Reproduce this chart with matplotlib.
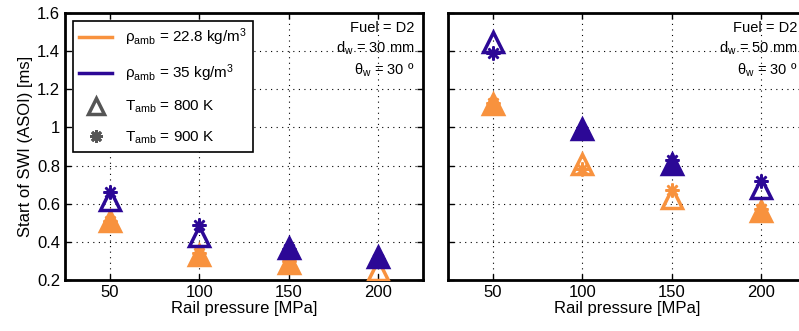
import matplotlib
matplotlib.use("Agg")
import matplotlib.pyplot as plt
from matplotlib.lines import Line2D

plt.rcParams['font.family'] = ['Liberation Sans', 'DejaVu Sans']

# Datos
pressure = [50, 100, 150, 200]

# panel izquierdo (d_w = 30 mm)
left_rho228_800 = [0.51, 0.33, 0.29, 0.25]
left_rho228_900 = [0.51, 0.34, 0.30, 0.30]
left_rho35_800 = [0.62, 0.43, 0.37, 0.32]
left_rho35_900 = [0.66, 0.49, 0.36, 0.31]

# panel derecho (d_w = 50 mm)
right_rho228_800 = [1.12, 0.81, 0.63, 0.56]
right_rho228_900 = [1.13, 0.78, 0.67, 0.57]
right_rho35_800 = [1.45, 0.99, 0.81, 0.68]
right_rho35_900 = [1.39, 0.98, 0.83, 0.72]

ORANGE = '#F8923E'
BLUE = '#2C0896'
GRAY = '#555555'
STAR = (8, 2, 0)

fig = plt.figure(figsize=(7.99, 3.31), dpi=100)
ax1 = fig.add_axes([0.0814, 0.154, 0.448, 0.807])
ax2 = fig.add_axes([0.5607, 0.154, 0.448, 0.807])


def draw_panel(ax, r1_800, r1_900, r2_800, r2_900):
    # orden de dibujo: naranja primero, azul encima
    for color, t800, t900 in [(ORANGE, r1_800, r1_900), (BLUE, r2_800, r2_900)]:
        ax.plot(pressure, t900, marker=STAR, ms=10, mec=color, mew=1.8,
                ls='none', zorder=3)
        for x, a, b in zip(pressure, t800, t900):
            # triangulo relleno cuando el asterisco queda dentro
            face = color if abs(a - b) < 0.025 else 'none'
            ax.plot(x, a, marker='^', ms=14, mfc=face, mec=color, mew=2.5,
                    ls='none', zorder=3)
    ax.set_xlim(25, 225)
    ax.set_ylim(0.2, 1.6)
    ax.set_xticks(pressure)
    ax.set_yticks([0.2, 0.4, 0.6, 0.8, 1.0, 1.2, 1.4, 1.6])
    ax.grid(True, color='black', linestyle=(0, (1, 4)), linewidth=0.8)
    ax.tick_params(direction='in', top=True, right=True, labelsize=12, length=4, width=1)
    for s in ax.spines.values():
        s.set_linewidth(2)
    ax.set_xlabel('Rail pressure [MPa]', fontsize=12, labelpad=1)


draw_panel(ax1, left_rho228_800, left_rho228_900, left_rho35_800, left_rho35_900)
draw_panel(ax2, right_rho228_800, right_rho228_900, right_rho35_800, right_rho35_900)

ax1.set_yticklabels(['0.2', '0.4', '0.6', '0.8', '1', '1.2', '1.4', '1.6'])
ax2.set_yticklabels([])
ax1.set_ylabel('Start of SWI (ASOI) [ms]', fontsize=12, labelpad=3)

ax1.text(0.975, 0.97, 'Fuel = D2\n$\\mathregular{d_w}$ = 30 mm\n$\\mathregular{\\theta_w}$ = 30 º',
         transform=ax1.transAxes, ha='right', va='top', fontsize=10.5, linespacing=1.35)
ax2.text(0.975, 0.97, 'Fuel = D2\n$\\mathregular{d_w}$ = 50 mm\n$\\mathregular{\\theta_w}$ = 30 º',
         transform=ax2.transAxes, ha='right', va='top', fontsize=10.5, linespacing=1.35)

handles = [
    Line2D([], [], color=ORANGE, lw=2.5),
    Line2D([], [], color=BLUE, lw=2.5),
    Line2D([], [], ls='none', marker='^', ms=12, mfc='none', mec=GRAY, mew=2.5),
    Line2D([], [], ls='none', marker=STAR, ms=9, mec=GRAY, mew=2),
]
labels = [
    '$\\mathregular{\\rho_{amb}}$ = 22.8 kg/m$\\mathregular{^3}$',
    '$\\mathregular{\\rho_{amb}}$ = 35 kg/m$\\mathregular{^3}$',
    '$\\mathregular{T_{amb}}$ = 800 K',
    '$\\mathregular{T_{amb}}$ = 900 K',
]
leg = ax1.legend(handles, labels, loc='upper left', fontsize=11, fancybox=False,
                 edgecolor='black', framealpha=1, borderaxespad=0.5,
                 handlelength=2.2, labelspacing=0.95)
leg.get_frame().set_linewidth(1.2)

fig.savefig('out.png', dpi=100)
